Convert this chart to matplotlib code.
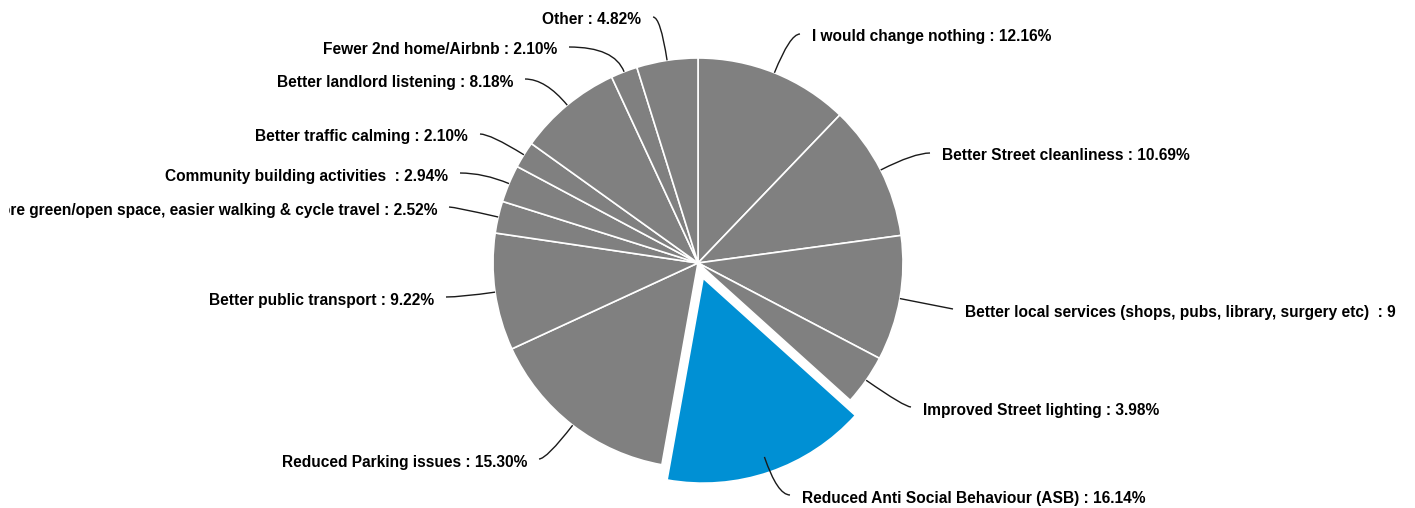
import numpy as np
import matplotlib.pyplot as plt
from matplotlib.path import Path
from matplotlib.patches import PathPatch
from matplotlib.transforms import Bbox

plt.rcParams['font.family'] = ['Liberation Sans', 'DejaVu Sans']

answers = [
    "I would change nothing",
    "Better Street cleanliness",
    "Better local services (shops, pubs, library, surgery etc) ",
    "Improved Street lighting",
    "Reduced Anti Social Behaviour (ASB)",
    "Reduced Parking issues",
    "Better public transport",
    "More green/open space, easier walking & cycle travel",
    "Community building activities ",
    "Better traffic calming",
    "Better landlord listening",
    "Fewer 2nd home/Airbnb",
    "Other",
]
percent = [12.16, 10.69, 9.85, 3.98, 16.14, 15.30, 9.22, 2.52, 2.94, 2.10, 8.18, 2.10, 4.82]
highlight = "Reduced Anti Social Behaviour (ASB)"

# label anchors in pixels (x = side facing the pie, y = middle of the text)
label_px = [(812, 37), (942, 156), (965, 312), (923, 410), (802, 498),
            (527, 462), (434, 300), (437, 210), (448, 176), (468, 137),
            (513, 82), (557, 50), (641, 20)]

W, H = 1415, 508
cx, cy = 698, 263
R = 205

fig = plt.figure(figsize=(W / 100, H / 100), dpi=100)
ax = fig.add_axes([0, 0, 1, 1])

colors = ['#0090d4' if a == highlight else '#808080' for a in answers]
explode = [16 if a == highlight else 0 for a in answers]
ax.pie(percent, radius=R, startangle=90, counterclock=False, colors=colors,
       explode=explode, wedgeprops=dict(edgecolor='white', linewidth=1.2))
ax.set_aspect('auto')
ax.set_xlim(-cx, W - cx)
ax.set_ylim(cy - H, cy)
ax.axis('off')

# labels that run past the plot area get cut, as in the dashboard export
clip = Bbox.from_extents(9, 0, 1396, H)

cum = np.cumsum([0] + percent[:-1])
for name, p, c, (px, py) in zip(answers, percent, cum, label_px):
    theta = np.deg2rad(360 * (c + p / 2) / 100)
    d = np.array([np.sin(theta), np.cos(theta)])
    p0 = R * d
    tx, ty = px - cx, cy - py
    right = p0[0] > 0
    p2 = np.array([tx - 12 if right else tx + 12, ty + 3])
    # bend point: where the radial direction meets the text line
    if abs(d[1]) > 1e-6:
        x1 = p0[0] + (p2[1] - p0[1]) / d[1] * d[0]
    else:
        x1 = p2[0]
    x1 = min(max(x1, min(p0[0], p2[0])), max(p0[0], p2[0]))
    p1 = np.array([x1, p2[1]])
    path = Path([p0, p1, p2], [Path.MOVETO, Path.CURVE3, Path.CURVE3])
    ax.add_patch(PathPatch(path, fill=False, edgecolor='#1a1a1a', lw=1.0,
                           clip_on=False))
    t = ax.text(tx, ty, f"{name} : {p:.2f}%", ha='left' if right else 'right',
                va='center', fontsize=11.2, fontweight='bold', color='black')
    t.set_clip_on(True)
    t.set_clip_box(clip)

fig.savefig('out.png', dpi=100)
